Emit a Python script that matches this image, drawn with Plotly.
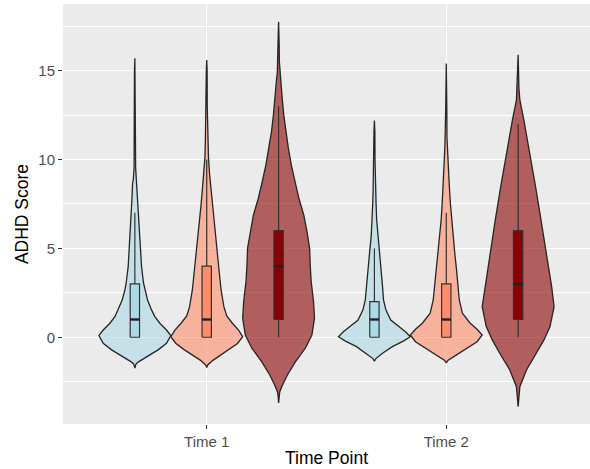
import plotly.graph_objects as go

# ---------------- data ----------------
time_points = ["Time 1", "Time 2"]
groups = ["Group 1", "Group 2", "Group 3"]

# Violin density profiles (score value -> relative density width)
t1_g1_y = [-1.74, -1.5, -1.37, -1.09, -0.71, -0.34, 0.1, 0.41, 0.79, 1.16, 1.54, 2.1, 2.66, 3.04,
           3.97, 4.9, 5.86, 6.78, 7.7, 8.65, 8.9, 9.5, 11.0, 13.0, 15.0, 15.7]
t1_g1_d = [0, 1.2, 4, 11.7, 23.3, 31.7, 36, 31.7, 25, 20, 16.7, 12.7, 10, 8.7,
           6.7, 5.7, 4.7, 4, 3, 2.3, 1.5, 0.8, 0.6, 0.5, 0.4, 0]

t1_g2_y = [-1.7, -1.56, -1.3, -1.0, -0.71, -0.35, 0.03, 0.4, 0.79, 1.2, 1.72, 2.66, 3.6, 4.53,
           5.47, 6.41, 7.35, 8.28, 9.22, 10.16, 11.1, 12.03, 13.0, 15.0, 15.6]
t1_g2_d = [0, 1, 6, 14, 21.7, 30, 35, 31, 25, 19.5, 16.7, 14, 12.3, 10.7,
           9, 7.3, 5.7, 4.3, 2.7, 1.7, 1.3, 0.7, 0.5, 0.4, 0]

t1_g3_y = [-3.7, -3.3, -3.06, -2.68, -2.12, -1.37, -0.62, 0.13, 1.07, 2.0, 3.13, 4.07, 5.0, 5.94,
           6.88, 7.82, 8.75, 9.69, 10.63, 11.56, 12.5, 13.44, 14.38, 14.9, 15.5, 16.5, 17.75]
t1_g3_d = [0, 0.5, 1.2, 4, 9, 17.3, 27.3, 34, 36.7, 35.7, 33.3, 32.3, 31.7, 29,
           25.7, 20.7, 16.7, 13, 10, 7.3, 5.3, 3.7, 2.3, 1.3, 0.8, 0.6, 0]

t2_g1_y = [-1.35, -1.2, -0.9, -0.53, -0.2, 0.03, 0.3, 0.6, 0.97, 1.54, 2.1, 2.85, 3.79, 4.72,
           5.66, 6.6, 7.53, 8.28, 8.6, 10.0, 11.5, 12.2]
t2_g1_d = [0, 1.5, 8.3, 18.3, 30, 36.7, 32, 25, 16.7, 11.7, 9.3, 8.3, 6.7, 5,
           3.3, 2.3, 1.7, 1.3, 0.8, 0.6, 0.5, 0]

t2_g2_y = [-1.45, -1.3, -0.99, -0.62, -0.25, 0.13, 0.45, 0.79, 1.35, 2.1, 2.85, 3.79, 4.72, 5.66,
           6.6, 7.53, 8.47, 9.4, 10.3, 10.8, 11.2, 13.0, 15.4]
t2_g2_d = [0, 1.5, 10, 20, 30, 35, 30, 23.3, 15.7, 12.7, 11.7, 10, 8.3, 6.7,
           5, 4, 3, 2.3, 1.7, 1.3, 0.7, 0.5, 0]

t2_g3_y = [-3.9, -3.3, -2.78, -1.84, -0.9, -0.15, 0.6, 1.72, 2.85, 4.72, 6.6, 8.47, 10.35, 12.22,
           13.35, 14.0, 15.9]
t2_g3_d = [0, 0.6, 1.7, 8.3, 18.3, 25.7, 31.7, 35.7, 33.3, 27.7, 22.7, 17.3, 11.7, 5.7,
           1.7, 0.8, 0]

# Box-plot statistics per time point (Group 1, Group 2, Group 3)
t1_q1 = [0, 0, 1]
t1_median = [1, 1, 4]
t1_q3 = [3, 4, 6]
t1_lower = [0, 0, 0]
t1_upper = [7, 10, 13]

t2_q1 = [0, 0, 1]
t2_median = [1, 1, 3]
t2_q3 = [2, 3, 6]
t2_lower = [0, 0, 0]
t2_upper = [5, 7, 12]

y_ticks = [0, 5, 10, 15]

# ---------------- styling ----------------
box_colors = ["#ADD8E6", "#FF8C69", "#8B0000"]
violin_fills = ["rgba(173,216,230,0.6)", "rgba(255,140,105,0.6)", "rgba(139,0,0,0.6)"]
outline = "#262626"
dodge = 0.3          # spacing between groups within a time point
violin_half = 0.15   # max half-width of a violin (data units)
box_w = 0.039

profiles = {
    0: [(t1_g1_y, t1_g1_d), (t1_g2_y, t1_g2_d), (t1_g3_y, t1_g3_d)],
    1: [(t2_g1_y, t2_g1_d), (t2_g2_y, t2_g2_d), (t2_g3_y, t2_g3_d)],
}
stats = {
    0: (t1_q1, t1_median, t1_q3, t1_lower, t1_upper),
    1: (t2_q1, t2_median, t2_q3, t2_lower, t2_upper),
}

fig = go.Figure()

# violins
for ti in range(len(time_points)):
    for gi in range(len(groups)):
        c = (ti + 1) + (gi - 1) * dodge
        ys, ds = profiles[ti][gi]
        m = max(ds)
        xr = [c + d / m * violin_half for d in ds]
        xl = [c - d / m * violin_half for d in ds]
        fig.add_trace(go.Scatter(
            x=xr + xl[::-1] + [xr[0]], y=list(ys) + list(ys[::-1]) + [ys[0]],
            mode="lines", fill="toself", fillcolor=violin_fills[gi],
            line=dict(color=outline, width=1.3), name=groups[gi],
            hoverinfo="skip", showlegend=False))

# boxes
for ti in range(len(time_points)):
    q1, med, q3, lo, hi = stats[ti]
    for gi in range(len(groups)):
        c = (ti + 1) + (gi - 1) * dodge
        # whiskers
        fig.add_trace(go.Scatter(
            x=[c, c, None, c, c], y=[lo[gi], q1[gi], None, q3[gi], hi[gi]],
            mode="lines", line=dict(color="#333333", width=1.2),
            hoverinfo="skip", showlegend=False))
        # box
        fig.add_trace(go.Scatter(
            x=[c - box_w / 2, c + box_w / 2, c + box_w / 2, c - box_w / 2, c - box_w / 2],
            y=[q1[gi], q1[gi], q3[gi], q3[gi], q1[gi]],
            mode="lines", fill="toself", fillcolor=box_colors[gi],
            line=dict(color="#333333", width=1.2), name=groups[gi],
            hoverinfo="skip", showlegend=False))
        # median
        fig.add_trace(go.Scatter(
            x=[c - box_w / 2, c + box_w / 2], y=[med[gi], med[gi]],
            mode="lines", line=dict(color="#222222", width=2.4),
            hoverinfo="skip", showlegend=False))

font_family = "Liberation Sans, Arial, sans-serif"
fig.update_layout(
    width=590, height=469,
    margin=dict(l=63, r=0, t=4, b=45),
    paper_bgcolor="white", plot_bgcolor="#EBEBEB",
    showlegend=False,
    font=dict(family=font_family),
    xaxis=dict(
        range=[0.4, 2.6], tickmode="array", tickvals=[1, 2], ticktext=time_points,
        showgrid=True, gridcolor="white", gridwidth=1.4, zeroline=False,
        ticks="outside", ticklen=4, tickwidth=1, tickcolor="#333333",
        tickfont=dict(size=15, color="#4D4D4D", family=font_family),
        title=dict(text="Time Point", font=dict(size=17.5, color="black", family=font_family),
                   standoff=2),
    ),
    yaxis=dict(
        range=[-4.88, 18.75], tickmode="array", tickvals=y_ticks,
        showgrid=True, gridcolor="white", gridwidth=1.4, zeroline=False,
        ticks="outside", ticklen=4, tickwidth=1, tickcolor="#333333",
        tickfont=dict(size=15, color="#4D4D4D", family=font_family),
        minor=dict(tickmode="array", tickvals=[-2.5, 2.5, 7.5, 12.5, 17.5],
                   showgrid=True, gridcolor="white", gridwidth=0.7, ticks=""),
        title=dict(text="ADHD Score", font=dict(size=17.5, color="black", family=font_family),
                   standoff=5),
    ),
)

fig.write_html("out.html")
